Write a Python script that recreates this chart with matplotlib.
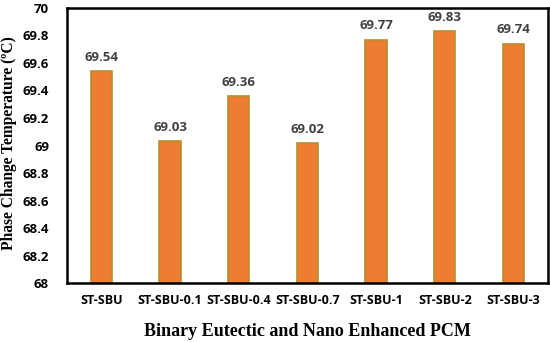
import matplotlib
matplotlib.use("Agg")
import matplotlib.pyplot as plt

categories = ["ST-SBU", "ST-SBU-0.1", "ST-SBU-0.4", "ST-SBU-0.7", "ST-SBU-1", "ST-SBU-2", "ST-SBU-3"]
values = [69.54, 69.03, 69.36, 69.02, 69.77, 69.83, 69.74]
yticks = [68, 68.2, 68.4, 68.6, 68.8, 69, 69.2, 69.4, 69.6, 69.8, 70]
ytick_labels = ["68", "68.2", "68.4", "68.6", "68.8", "69", "69.2", "69.4", "69.6", "69.8", "70"]

fig = plt.figure(figsize=(5.5, 3.42), dpi=100)
ax = fig.add_axes([0.122, 0.172, 0.874, 0.805])

x = list(range(len(categories)))
bars = ax.bar(x, [v - 68 for v in values], bottom=68, width=0.31,
              color="#ED7D31", edgecolor="#B5902F", linewidth=1.2)

for xi, v in zip(x, values):
    ax.text(xi, v + 0.10, f"{v:.2f}", ha="center", va="center",
            fontsize=9.5, fontweight="bold", color="#404040", family="Open Sans")

ax.set_xlim(-0.5, 6.5)
ax.set_ylim(68, 70)
ax.set_yticks(yticks)
ax.set_yticklabels(ytick_labels, fontsize=9.5, fontweight="bold", family="Open Sans")
ax.set_xticks(x)
ax.set_xticklabels(categories, fontsize=9, fontweight="bold", family="Open Sans")
ax.tick_params(axis="both", length=0, pad=8)
ax.tick_params(axis="y", pad=13)

for s in ax.spines.values():
    s.set_linewidth(1.8)
    s.set_color("black")

ax.set_ylabel("Phase Change Temperature (\u00baC)", fontsize=11.2, fontweight="bold",
              family="Liberation Serif")
ax.yaxis.set_label_coords(-0.105, 0.51)
ax.set_xlabel("Binary Eutectic and Nano Enhanced PCM", fontsize=13, fontweight="bold",
              family="Liberation Serif", labelpad=11)

fig.savefig("out.png", dpi=100)
